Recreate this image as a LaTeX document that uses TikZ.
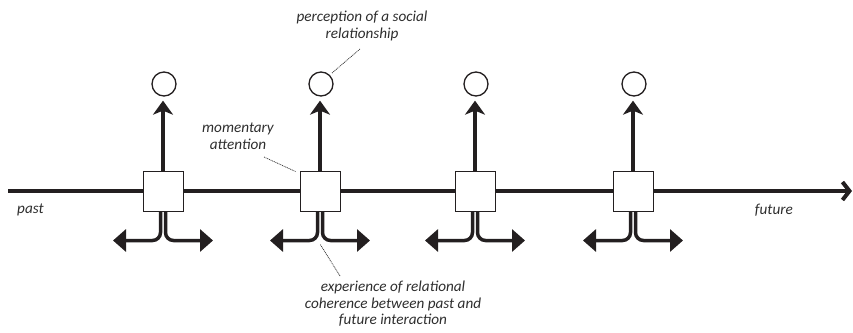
\documentclass[tikz,border=0pt]{standalone}
\usepackage{fontspec}
\setmainfont{Carlito}
\usetikzlibrary{arrows.meta}
\definecolor{ink}{HTML}{231F20}
\definecolor{note}{HTML}{2E2E2E}

\begin{document}
\begin{tikzpicture}[x=1bp,y=-1bp,
  stage/.style={draw=ink, line width=1bp, fill=white, minimum size=40bp, inner sep=0},
  pcirc/.style={draw=ink, line width=1.3bp, circle, minimum size=24bp, inner sep=0},
  axis/.style={line width=4bp, draw=ink},
  uparrow/.style={line width=4bp, draw=ink, shorten >=4bp,
    -{Stealth[length=14bp,width=20bp,inset=4bp]}},
  fork/.style={line width=3.5bp, draw=ink, rounded corners=8bp,
    -{Triangle[length=13bp,width=22bp]}},
  lead/.style={draw=note, line width=0.7bp, dash pattern=on 1bp off 0.8bp},
  note/.style={font=\fontsize{15.2bp}{16.6bp}\selectfont\itshape, text=note,
    align=center, inner sep=0}
]
\useasboundingbox (0,0) rectangle (853,332);

% time axis
\coordinate (pastend) at (8,191);
\coordinate (futureend) at (852,191);
\draw[axis, -{Straight Barb[length=7bp,width=18bp]}] (pastend) -- (futureend);

% moments on the axis, each with its perception and its forked experience
\foreach \i/\x in {1/163, 2/320, 3/475, 4/633} {
  \node[stage] (b\i) at (\x,191) {};
  \node[pcirc] (c\i) at (\x+1,84) {};
  \draw[uparrow] (b\i.north) -- (b\i.north |- c\i.south);
  \draw[fork] ([xshift=-2.5bp]b\i.south) -- ++(0,29) -- ++(-47.5,0);
  \draw[fork] ([xshift=2.5bp]b\i.south) -- ++(0,29) -- ++(47.5,0);
}

% labels
\node[note, anchor=west] (past) at (17,210) {past};
\node[note, anchor=east] (future) at (793,210) {future};
\node[note] (perc) at (362,26) {perception of a social\\relationship};
\node[note] (mom) at (238,136) {momentary\\attention};
\node[note] (exp) at (393,304) {experience of relational\\coherence between past and\\future interaction};

% leader lines
\coordinate (percfoot) at (360,49);
\coordinate (momfoot) at (264,157);
\coordinate (expfoot) at (340,276);
\draw[lead] (percfoot) -- ([shift={(2,-2)}]c2.north east);
\draw[lead] (momfoot) -- ([shift={(-4,1)}]b2.north west);
\draw[lead] (expfoot) -- (320,244);
\end{tikzpicture}
\end{document}
